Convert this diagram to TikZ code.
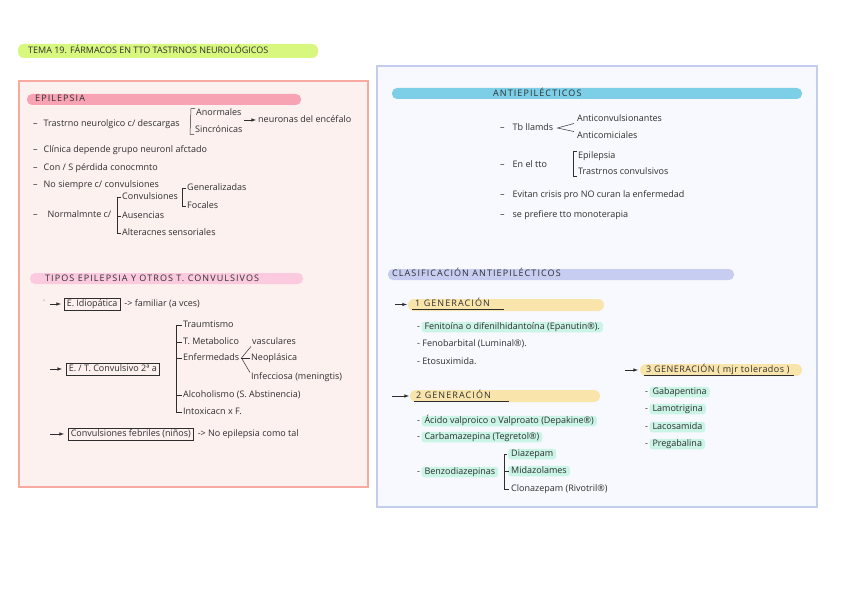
\documentclass[tikz,border=0pt]{standalone}
\usepackage{fontspec}
\setmainfont{Open Sans}
\usetikzlibrary{positioning}
\definecolor{ink}{HTML}{2E2E2E}
\definecolor{lime}{HTML}{D8F77E}
\definecolor{pinkbar}{HTML}{F8A3B4}
\definecolor{pinklight}{HTML}{FCCADF}
\definecolor{pinkfill}{HTML}{FDF1F0}
\definecolor{pinkline}{HTML}{F6AAA0}
\definecolor{bluefill}{HTML}{F8F9FE}
\definecolor{blueline}{HTML}{C4CDEE}
\definecolor{skybar}{HTML}{7CCFE6}
\definecolor{lavbar}{HTML}{C7CDF1}
\definecolor{sandbar}{HTML}{F9E5AB}
\definecolor{mint}{HTML}{C9F4E6}
\tikzset{
  txt/.style={anchor=west, inner sep=0pt, text=ink, text height=6.6pt, text depth=1.9pt, font=\fontsize{9}{10}\selectfont},
  head/.style={txt, font=\fontsize{9}{10}\selectfont\addfontfeatures{LetterSpace=12}},
  hl/.style={txt, fill=mint, rounded corners=3pt, inner xsep=3pt, inner ysep=1pt},
  boxed/.style={txt, draw=ink, line width=.5pt, inner xsep=2.5pt, inner ysep=2pt},
  brk/.style={draw=ink, line width=.5pt},
  arr/.style={draw=ink, line width=.6pt, -latex},
}
\begin{document}
\begin{tikzpicture}[x=1pt, y=-1pt]
\useasboundingbox (0,0) rectangle (848,599);
\fill [white] (0,0) rectangle (848,599);
% title
\fill [lime, rounded corners=6pt] (18,44) rectangle (318,58);
\node [txt] (title) at (28,51) {TEMA 19. FÁRMACOS EN TTO TASTRNOS NEUROLÓGICOS};
% panels
\draw [pinkline, fill=pinkfill, line width=1.5pt] (19,81) rectangle (368,487);
\draw [blueline, fill=bluefill, line width=1.5pt] (377,66) rectangle (817,507);
% epilepsia
\fill [pinkbar, rounded corners=5pt] (27,94) rectangle (301,105);
\node [head] (epi) at (35,99.5) {EPILEPSIA};
\node [txt] (trast) at (33,124) {–\hspace{6pt}Trastrno neurolgico c/ descargas};
\node [txt] (anorm) at (196,113) {Anormales};
\node [txt] (sinc) at (195,130) {Sincrónicas};
\node [txt] (neur) at (258,120) {neuronas del encéfalo};
\draw [brk] ([xshift=-1pt]anorm.north west) -- ([xshift=-5pt]anorm.north west) -- ([xshift=-5pt]sinc.south west) -- ([xshift=-1pt]sinc.south west);
\draw [arr] ([xshift=-14pt]neur.west) -- ([xshift=-2pt]neur.west);
\node [txt] (clin) at (33,150) {–\hspace{6pt}Clínica depende grupo neuronl afctado};
\node [txt] (con) at (33,168) {–\hspace{6pt}Con / S pérdida conocmnto};
\node [txt] (nosi) at (33,185) {–\hspace{6pt}No siempre c/ convulsiones};
\node [txt] (norm) at (33,215) {–\hspace{10pt}Normalmnte c/};
\node [txt] (conv) at (122,197) {Convulsiones};
\node [txt] (aus) at (122,216) {Ausencias};
\node [txt] (alt) at (122,233) {Alteracnes sensoriales};
\node [txt] (gen) at (187,188) {Generalizadas};
\node [txt] (foc) at (187,206) {Focales};
\draw [brk] ([xshift=-1pt]conv.west) -| ([xshift=-5pt]alt.west) -- ([xshift=-1pt]alt.west);
\draw [brk] ([xshift=-5pt]aus.west) -- ([xshift=-1pt]aus.west);
\draw [brk] ([xshift=-1pt]gen.west) -| ([xshift=-5pt]foc.west) -- ([xshift=-1pt]foc.west);
% tipos
\fill [pinklight, rounded corners=5pt] (30,273) rectangle (303,284);
\node [head] (tipos) at (45,279) {TIPOS EPILEPSIA Y OTROS T. CONVULSIVOS};
\fill [ink] (44,300) circle (.5);
\node [boxed] (idio) at (64,304) {E. Idiopática};
\node [txt, right=4pt of idio] (fam) {-> familiar (a vces)};
\coordinate (a1) at (50,304);
\draw [arr] (a1) -- ([xshift=-3pt]idio.west);
\node [txt] (traum) at (183,325) {Traumtismo};
\node [txt] (metab) at (183,342) {T. Metabolico};
\node [txt] (enf) at (183,358) {Enfermedads};
\node [txt] (alc) at (183,395) {Alcoholismo (S. Abstinencia)};
\node [txt] (intox) at (183,412) {Intoxicacn x F.};
\draw [brk] ([xshift=-1pt]traum.west) -| ([xshift=-7pt]intox.west) -- ([xshift=-1pt]intox.west);
\foreach \n in {metab, enf, alc}
  \draw [brk] ([xshift=-7pt]\n.west) -- ([xshift=-1pt]\n.west);
\node [txt] (vasc) at (252,342) {vasculares};
\node [txt] (neo) at (251,358) {Neoplásica};
\node [txt] (inf) at (251,377) {Infecciosa (meningtis)};
\draw [brk] ([xshift=-1pt]vasc.south west) -- ([xshift=2pt]enf.east) -- ([xshift=-1pt]inf.north west);
\draw [brk] ([xshift=2pt]enf.east) -- ([xshift=-1pt]neo.west);
\node [boxed] (sec) at (66,369) {E. / T. Convulsivo 2ª a};
\coordinate (a2) at (50,369);
\draw [arr] (a2) -- ([xshift=-4pt]sec.west);
\node [boxed] (feb) at (68,434) {Convulsiones febriles (niños)};
\node [txt, right=4pt of feb] (noep) {-> No epilepsia como tal};
\coordinate (a3) at (50,434);
\draw [arr] (a3) -- ([xshift=-4pt]feb.west);
% antiepilecticos
\fill [skybar, rounded corners=5pt] (392,88) rectangle (802,99);
\node [head] (anti) at (493,94) {ANTIEPILÉCTICOS};
\node [txt] (tb) at (500,128) {–\hspace{8pt}Tb llamds};
\node [txt] (anticonv) at (577,119) {Anticonvulsionantes};
\node [txt] (anticom) at (577,136) {Anticomiciales};
\draw [brk] ([xshift=-3pt]anticonv.south west) -- ([xshift=4pt]tb.east) -- ([xshift=-3pt]anticom.north west);
\node [txt] (tto) at (500,165) {–\hspace{8pt}En el tto};
\node [txt] (epil) at (578,156) {Epilepsia};
\node [txt] (tconv) at (578,172) {Trastrnos convulsivos};
\draw [brk] ([xshift=-1pt]epil.north west) -- ([xshift=-5pt]epil.north west) -- ([xshift=-5pt]tconv.south west) -- ([xshift=-1pt]tconv.south west);
\node [txt] (evi) at (500,195) {–\hspace{8pt}Evitan crisis pro NO curan la enfermedad};
\node [txt] (mono) at (500,215) {–\hspace{8pt}se prefiere tto monoterapia};
% clasificacion
\fill [lavbar, rounded corners=5pt] (388,269) rectangle (734,280);
\node [head] (clas) at (392,274.5) {CLASIFICACIÓN ANTIEPILÉCTICOS};
% 1 generacion
\fill [sandbar, rounded corners=6pt] (408,299) rectangle (604,311);
\node [head] (g1) at (415,304.5) {1 GENERACIÓN};
\draw [brk] ([xshift=-3pt, yshift=-0.5pt]g1.south west) -- ([xshift=14pt, yshift=-0.5pt]g1.south east);
\coordinate (b1) at (395,304.5);
\draw [arr] (b1) -- ([xshift=-8pt]g1.west);
\node [txt] (d11) at (417,327) {-};
\node [hl, right=1pt of d11] (feni) {Fenitoína o difenilhidantoína (Epanutin®).};
\node [txt] (feno) at (417,344) {- Fenobarbital (Luminal®).};
\node [txt] (etos) at (417,362) {- Etosuximida.};
% 2 generacion
\fill [sandbar, rounded corners=6pt] (410,390) rectangle (600,402);
\node [head] (g2) at (416,396) {2 GENERACIÓN};
\draw [brk] ([xshift=-2pt, yshift=-0.5pt]g2.south west) -- ([xshift=18pt, yshift=-0.5pt]g2.south east);
\coordinate (b2) at (392,396);
\draw [arr] (b2) -- ([xshift=-7pt]g2.west);
\node [txt] (d21) at (417,421) {-};
\node [hl, right=1pt of d21] (valp) {Ácido valproico o Valproato (Depakine®)};
\node [txt] (d22) at (417,437) {-};
\node [hl, right=1pt of d22] (carb) {Carbamazepina (Tegretol®)};
\node [txt] (d23) at (417,472) {-};
\node [hl, right=1pt of d23] (benz) {Benzodiazepinas};
\node [hl] (diaz) at (508,454) {Diazepam};
\node [hl] (mida) at (508,471) {Midazolames};
\node [txt] (clon) at (511,489) {Clonazepam (Rivotril®)};
\draw [brk] ([xshift=-1pt]diaz.west) -| ([xshift=-7pt]clon.west) -- ([xshift=-2pt]clon.west);
\draw [brk] ([xshift=-4pt]mida.west) -- ([xshift=1pt]mida.west);
% 3 generacion
\fill [sandbar, rounded corners=6pt] (640,364) rectangle (802,376);
\node [txt, font=\fontsize{9}{10}\selectfont\addfontfeatures{LetterSpace=5}] (g3) at (646,370) {3 GENERACIÓN ( mjr tolerados )};
\draw [brk] ([xshift=-2pt, yshift=-0.5pt]g3.south west) -- ([xshift=4pt, yshift=-0.5pt]g3.south east);
\coordinate (b3) at (625,370);
\draw [arr] (b3) -- ([xshift=-8pt]g3.west);
\foreach \n/\y/\t in {gaba/392/Gabapentina, lamo/409/Lamotrigina, laco/427/Lacosamida, preg/444/Pregabalina} {
  \node [txt] (d\n) at (645,\y) {-};
  \node [hl, right=1pt of d\n] (\n) {\t};
}
\end{tikzpicture}
\end{document}
